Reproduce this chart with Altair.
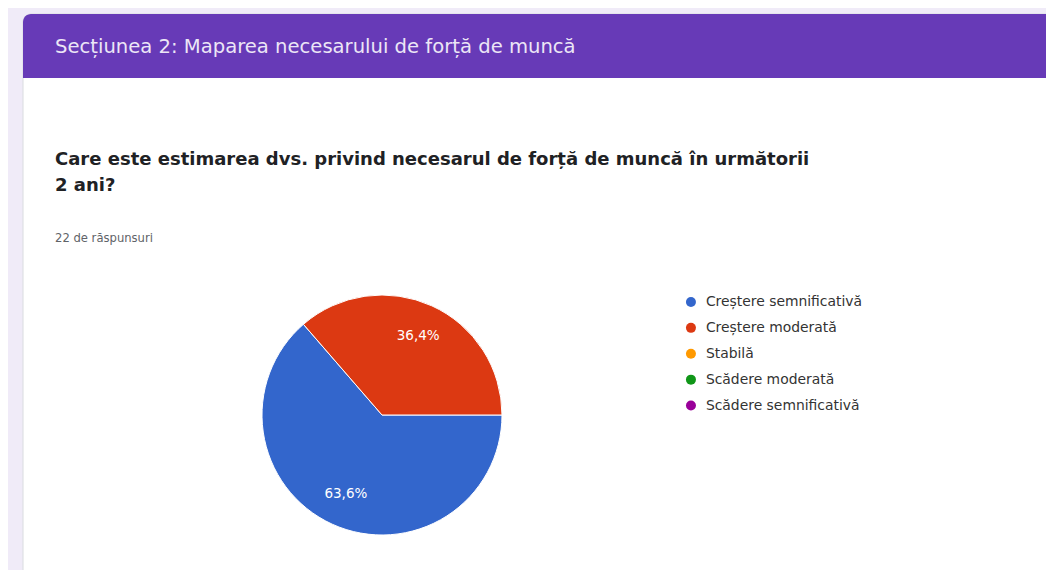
import math
import altair as alt
import pandas as pd

# ---- data ----
categories = ["Creștere semnificativă", "Creștere moderată", "Stabilă",
              "Scădere moderată", "Scădere semnificativă"]
counts = [14, 8, 0, 0, 0]
colors = ["#3366cc", "#dc3912", "#ff9900", "#109618", "#990099"]

header_text = "Secțiunea 2: Maparea necesarului de forță de muncă"
question_lines = ["Care este estimarea dvs. privind necesarul de forță de muncă în următorii",
                  "2 ani?"]
responses_text = "22 de răspunsuri"

total = sum(counts)
df = pd.DataFrame({
    "cat": categories,
    "n": counts,
    "idx": list(range(len(categories))),
})
df["pct"] = [(f"{v / total * 100:.1f}".replace(".", ",") + "%") for v in counts]
pie_df = df[df["n"] > 0]

W, H = 1038, 562
one = pd.DataFrame({"a": [0]})
FONT = "DejaVu Sans"

color_scale = alt.Scale(domain=categories, range=colors)
theta_scale = alt.Scale(range=[math.pi / 2, math.pi / 2 + 2 * math.pi])

card = alt.Chart(one).mark_rect(color="#ffffff", cornerRadius=8,
                                stroke="#dadce0", strokeWidth=1).encode(
    x=alt.value(15), x2=alt.value(W + 20), y=alt.value(6), y2=alt.value(H + 20))

header = alt.Chart(one).mark_rect(color="#673ab7", cornerRadiusTopLeft=8,
                                  cornerRadiusTopRight=8).encode(
    x=alt.value(15), x2=alt.value(W + 20), y=alt.value(6), y2=alt.value(70))

header_t = alt.Chart(one).mark_text(text=header_text, align="left", baseline="middle",
                                    font=FONT, fontSize=19.6, color="#ece6f6").encode(
    x=alt.value(47), y=alt.value(39))

q1 = alt.Chart(one).mark_text(text=question_lines[0], align="left", baseline="middle",
                              font=FONT, fontSize=18, fontWeight="bold",
                              color="#202124").encode(x=alt.value(47), y=alt.value(152))
q2 = alt.Chart(one).mark_text(text=question_lines[1], align="left", baseline="middle",
                              font=FONT, fontSize=18, fontWeight="bold",
                              color="#202124").encode(x=alt.value(47), y=alt.value(178))
resp = alt.Chart(one).mark_text(text=responses_text, align="left", baseline="middle",
                                font=FONT, fontSize=11.6, color="#5f6368").encode(
    x=alt.value(47), y=alt.value(231))

CX, CY = 374, 407

pie = alt.Chart(pie_df).mark_arc(outerRadius=120, stroke="#ffffff", strokeWidth=1).encode(
    theta=alt.Theta("n:Q", stack=True, scale=theta_scale),
    color=alt.Color("cat:N", scale=color_scale, title=None,
                    legend=alt.Legend(orient="none", legendX=676, legendY=287,
                                      symbolType="circle", symbolSize=100,
                                      labelFont=FONT, labelFontSize=13.9,
                                      labelColor="#333333", rowPadding=10.9,
                                      symbolStrokeWidth=0, labelOffset=8)),
    order=alt.Order("idx:Q"),
    x=alt.value(CX), y=alt.value(CY),
)

labels = alt.Chart(pie_df).mark_text(radius=87, font=FONT, fontSize=13.5,
                                     color="#ffffff").encode(
    theta=alt.Theta("n:Q", stack=True, scale=theta_scale),
    text="pct:N",
    order=alt.Order("idx:Q"),
    x=alt.value(CX), y=alt.value(CY),
)

chart = alt.layer(card, header, header_t, q1, q2, resp, pie, labels).properties(
    width=W, height=H, padding=0, autosize=alt.AutoSizeParams(type="none"),
    background="#f0ebf8",
).configure_view(stroke=None)

chart.save("out.html", embed_options={"renderer": "svg", "actions": False})
